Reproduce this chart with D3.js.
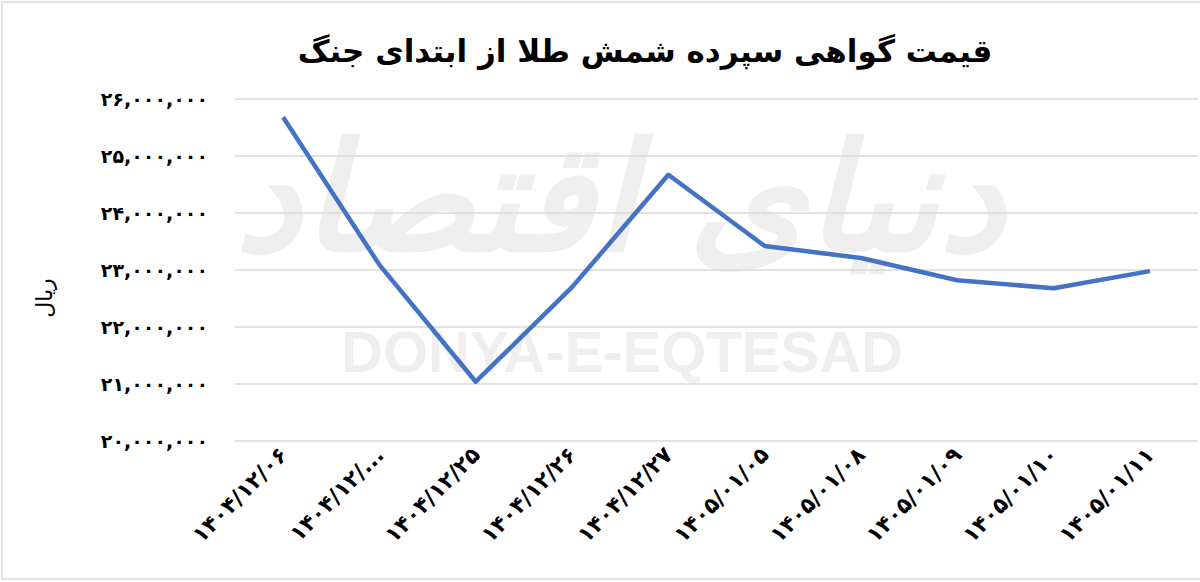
<!DOCTYPE html>
<html>
<head>
<meta charset="utf-8">
<style>
  body { margin: 0; background: #fff; }
  svg text { font-family: "DejaVu Sans", sans-serif; }
</style>
</head>
<body>
<div id="chart"></div>
<script src="https://cdn.jsdelivr.net/npm/d3@7"></script>
<script>
// data
var dates = ["۱۴۰۴/۱۲/۰۶", "۱۴۰۴/۱۲/...", "۱۴۰۴/۱۲/۲۵", "۱۴۰۴/۱۲/۲۶", "۱۴۰۴/۱۲/۲۷",
             "۱۴۰۵/۰۱/۰۵", "۱۴۰۵/۰۱/۰۸", "۱۴۰۵/۰۱/۰۹", "۱۴۰۵/۰۱/۱۰", "۱۴۰۵/۰۱/۱۱"];
var prices = [25680000, 23090000, 21040000, 22700000, 24670000,
              23420000, 23210000, 22820000, 22680000, 22980000];
var yTicks = [20000000, 21000000, 22000000, 23000000, 24000000, 25000000, 26000000];

var width = 1200, height = 582;
var plotLeft = 235, plotRight = 1198, plotTop = 99, plotBottom = 441;

var svg = d3.select("#chart").append("svg")
    .attr("width", width)
    .attr("height", height);

// chart border
svg.append("rect")
    .attr("x", 2).attr("y", 2)
    .attr("width", width).attr("height", height - 5)
    .attr("fill", "none")
    .attr("stroke", "#d9d9d9")
    .attr("stroke-width", 1.5);

var x = d3.scaleBand().domain(dates).range([plotLeft, plotRight]);
var y = d3.scaleLinear().domain([20000000, 26000000]).range([plotBottom, plotTop]);

var faDigits = "۰۱۲۳۴۵۶۷۸۹";
function toFa(s) { return s.replace(/[0-9]/g, function (c) { return faDigits[+c]; }); }
var fmt = d3.format(",d");

// watermark
var wm = svg.append("g").attr("fill", "#efefef");
wm.append("text")
    .attr("x", 620).attr("y", 250)
    .attr("text-anchor", "middle")
    .attr("direction", "rtl")
    .style("font-size", "150px")
    .style("font-weight", "bold")
    .style("font-style", "italic")
    .text("دنیای اقتصاد");
wm.append("text")
    .attr("x", 622).attr("y", 372)
    .attr("text-anchor", "middle")
    .style("font-family", "Liberation Sans, Arial, sans-serif")
    .style("font-weight", "bold")
    .style("font-size", "58px")
    .text("DONYA-E-EQTESAD");

// gridlines
svg.append("g").selectAll("line")
    .data(yTicks)
    .join("line")
    .attr("x1", plotLeft).attr("x2", plotRight)
    .attr("y1", function (d) { return y(d); })
    .attr("y2", function (d) { return y(d); })
    .attr("stroke", "#d9d9d9")
    .attr("stroke-width", 1.5);

// y axis labels
var yAxis = d3.axisLeft(y)
    .tickValues(yTicks)
    .tickSize(0)
    .tickPadding(0)
    .tickFormat(function (d) { return toFa(fmt(d)); });
var yg = svg.append("g")
    .attr("transform", "translate(208,0)")
    .call(yAxis);
yg.select(".domain").remove();
yg.selectAll("text")
    .attr("fill", "#000")
    .style("font-family", "DejaVu Sans, sans-serif")
    .style("font-size", "19px")
    .style("font-weight", "bold");

// x axis labels
var xAxis = d3.axisBottom(x).tickSize(0).tickPadding(0);
var xg = svg.append("g")
    .attr("transform", "translate(0,462)")
    .call(xAxis);
xg.select(".domain").remove();
xg.selectAll("text")
    .attr("fill", "#000")
    .attr("dy", 0).attr("y", 0).attr("x", 8)
    .attr("text-anchor", "end")
    .attr("direction", "ltr")
    .attr("transform", "rotate(-45)")
    .style("font-family", "DejaVu Sans, sans-serif")
    .style("font-size", "22px")
    .style("font-weight", "bold");

// line
var line = d3.line()
    .x(function (d, i) { return x(dates[i]) + x.bandwidth() / 2; })
    .y(function (d) { return y(d); });
svg.append("path")
    .datum(prices)
    .attr("d", line)
    .attr("fill", "none")
    .attr("stroke", "#4472C4")
    .attr("stroke-width", 4.5)
    .attr("stroke-linejoin", "round");

// title
svg.append("text")
    .attr("x", 645).attr("y", 62)
    .attr("text-anchor", "middle")
    .attr("direction", "rtl")
    .style("font-size", "31px")
    .style("font-weight", "bold")
    .text("قیمت گواهی سپرده شمش طلا از ابتدای جنگ");

// y axis title
svg.append("text")
    .attr("transform", "translate(52,298) rotate(-90)")
    .attr("text-anchor", "middle")
    .attr("direction", "rtl")
    .style("font-size", "22px")
    .text("ریال");
</script>
</body>
</html>
